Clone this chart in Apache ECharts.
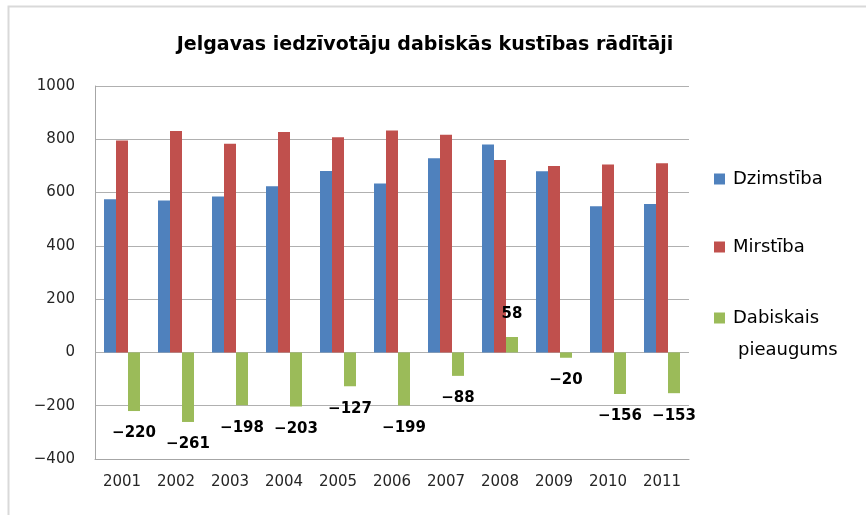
<!DOCTYPE html>
<html>
<head>
<meta charset="utf-8">
<script src="https://cdn.jsdelivr.net/npm/echarts@6/dist/echarts.min.js"></script>
<style>
  html, body { margin: 0; padding: 0; background: #fff; }
  #chart { width: 866px; height: 515px; }
</style>
</head>
<body>
<div id="chart"></div>
<script>
// dati
var years = ['2001', '2002', '2003', '2004', '2005', '2006', '2007', '2008', '2009', '2010', '2011'];
var dzimstiba = [575, 570, 585, 624, 681, 634, 729, 780, 680, 549, 557];
var mirstiba = [795, 831, 783, 827, 808, 833, 817, 722, 700, 705, 710];
var pieaugums = [-220, -261, -198, -203, -127, -199, -88, 58, -20, -156, -153];

var font = 'DejaVu Sans';

function minus(v) {
    return String(v).replace('-', '\u2212');
}

var chart = echarts.init(document.getElementById('chart'));

var option = {
    backgroundColor: '#fff',
    animation: false,
    title: {
        text: 'Jelgavas iedzīvotāju dabiskās kustības rādītāji',
        left: 420,
        textAlign: 'center',
        top: 31,
        textStyle: { fontFamily: font, fontSize: 19, fontWeight: 'bold', color: '#000' }
    },
    legend: [{
        orient: 'vertical',
        left: 714,
        top: 169,
        padding: 0,
        itemGap: 48,
        itemWidth: 11,
        itemHeight: 11,
        icon: 'rect',
        data: ['Dzimstība', 'Mirstība'],
        textStyle: { fontFamily: font, fontSize: 18, lineHeight: 20, color: '#000', padding: [0, 0, 0, 3] }
    }, {
        orient: 'vertical',
        left: 714,
        top: 308,
        padding: 0,
        itemWidth: 11,
        itemHeight: 11,
        icon: 'rect',
        data: ['Dabiskais pieaugums'],
        formatter: function () { return 'Dabiskais'; },
        textStyle: { fontFamily: font, fontSize: 18, lineHeight: 20, color: '#000', padding: [0, 0, 0, 3] }
    }],
    graphic: [{
        type: 'rect',
        shape: { x: 8.5, y: 6.5, width: 900, height: 600 },
        style: { fill: 'none', stroke: '#d9d9d9', lineWidth: 2 },
        silent: true
    }, {
        type: 'text',
        left: 738,
        top: 341,
        style: { text: 'pieaugums', font: '18px "DejaVu Sans"', fill: '#000' }
    }],
    grid: { left: 95, right: 177, top: 86, bottom: 56 },
    xAxis: {
        type: 'category',
        data: years,
        axisLine: { onZero: false, lineStyle: { color: '#a6a6a6' } },
        axisTick: { show: false },
        axisLabel: { fontFamily: font, fontSize: 15, color: '#262626', margin: 16 }
    },
    yAxis: {
        type: 'value',
        min: -400,
        max: 1000,
        interval: 200,
        axisLine: { show: true, lineStyle: { color: '#a6a6a6' } },
        axisTick: { show: false },
        splitLine: { lineStyle: { color: '#b0b0b0' } },
        axisLabel: { fontFamily: font, fontSize: 15, color: '#262626', margin: 20, formatter: minus }
    },
    series: [{
        name: 'Dzimstība',
        type: 'bar',
        data: dzimstiba,
        barWidth: 12,
        barGap: '0%',
        itemStyle: { color: '#4F81BD' }
    }, {
        name: 'Mirstība',
        type: 'bar',
        data: mirstiba,
        barWidth: 12,
        barGap: '0%',
        itemStyle: { color: '#C0504D' }
    }, {
        name: 'Dabiskais pieaugums',
        type: 'bar',
        barWidth: 12,
        barGap: '0%',
        itemStyle: { color: '#9BBB59' },
        data: pieaugums.map(function (v) {
            return { value: v, label: { position: v < 0 ? 'bottom' : 'top' } };
        }),
        label: {
            show: true,
            distance: 15,
            fontFamily: font,
            fontSize: 15,
            fontWeight: 'bold',
            color: '#000',
            formatter: function (p) { return minus(p.value); }
        }
    }]
};

chart.setOption(option);
</script>
</body>
</html>
